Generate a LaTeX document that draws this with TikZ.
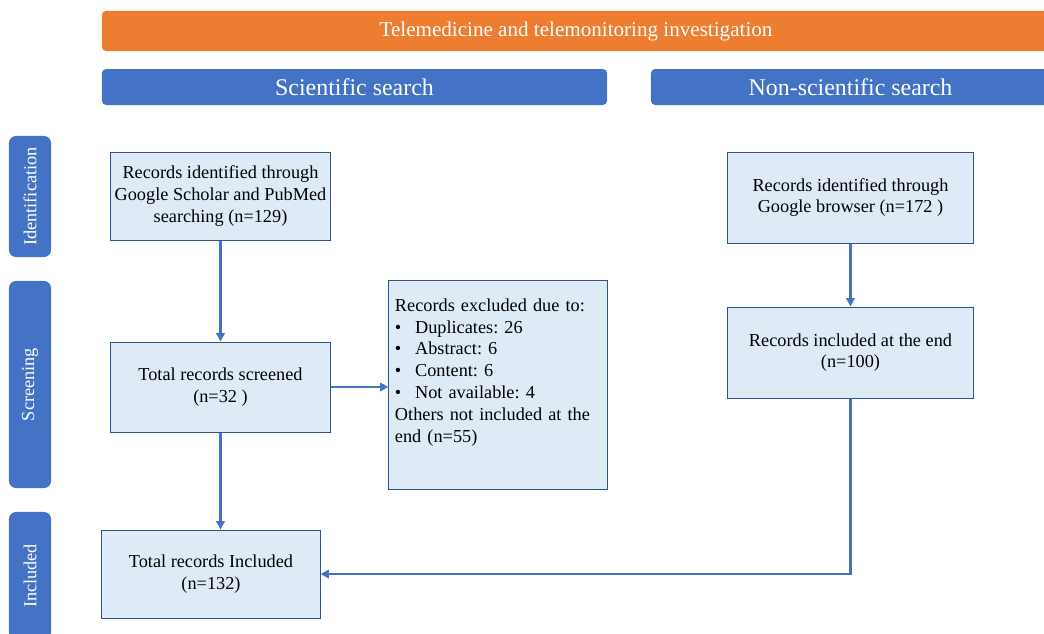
\documentclass[tikz,border=0pt]{standalone}
\usepackage{fontspec}
\setmainfont{Liberation Serif}
\usetikzlibrary{positioning, calc, arrows.meta}
\definecolor{bannerorange}{RGB}{237,125,49}
\definecolor{bannerblue}{RGB}{68,114,196}
\definecolor{boxfill}{RGB}{222,235,247}
\definecolor{boxedge}{RGB}{47,82,143}

\begin{document}
\frenchspacing
\begin{tikzpicture}[
        x=0.025cm, y=-0.025cm,
        banner/.style={rectangle, fill=bannerblue, text=white, rounded corners=3pt, inner sep=0pt, align=center},
        phase/.style={rectangle, fill=bannerblue, text=white, rounded corners=5pt, rotate=90, minimum height=1.05cm, inner sep=0pt, font=\fontsize{13}{15}\selectfont},
        box/.style={rectangle, draw=boxedge, fill=boxfill, line width=0.7pt, align=center, inner sep=2pt, font=\fontsize{13}{15.5}\selectfont},
        arrow/.style={-{Triangle[length=6pt, width=6pt]}, bannerblue, line width=1.8pt},
    ]
    \useasboundingbox (0,0) rectangle (1044,633);

    % ===== Banners =====
    \node[banner, fill=bannerorange, minimum width=23.7cm, minimum height=1cm, font=\fontsize{15}{18}\selectfont] (TOP) at (576,31) {Telemedicine and telemonitoring investigation};
    \node[banner, minimum width=12.625cm, minimum height=0.9cm, font=\fontsize{17}{20}\selectfont] (SCI) at (354.5,87) {Scientific search};
    \node[banner, minimum width=9.975cm, minimum height=0.9cm, font=\fontsize{17}{20}\selectfont] (NSCI) at (850.5,87) {Non-scientific search};

    % ===== Phases =====
    \node[phase, minimum width=3.025cm] (PID) at (30,196.5) {Identification};
    \node[phase, minimum width=5.175cm] (PSCR) at (30,384.5) {Screening};
    \node[phase, minimum width=3.2cm] (PINC) at (30,576) {Included};

    % ===== Scientific search =====
    \node[box, minimum width=5.475cm, minimum height=2.2cm] (ID1) at (220.5,196)
        {Records identified through\\Google Scholar and PubMed\\searching (n=129)};
    \node[box, minimum width=5.475cm, minimum height=2.25cm] (SCR) at (220.5,387)
        {Total records screened\\(n=32 )};
    \node[box, minimum width=5.45cm, minimum height=5.2cm, text width=5.15cm, align=left] (EXC) at (498,385)
        {Records excluded due to:\\
         \textbullet\hspace{0.75em}Duplicates: 26\\
         \textbullet\hspace{0.75em}Abstract: 6\\
         \textbullet\hspace{0.75em}Content: 6\\
         \textbullet\hspace{0.75em}Not available: 4\\
         Others not included at the\\
         end (n=55)\par\rule{0pt}{0.6cm}};
    \node[box, minimum width=5.45cm, minimum height=2.2cm] (INC) at (211,574)
        {Total records Included\\(n=132)};

    % ===== Non-scientific search =====
    \node[box, minimum width=6.125cm, minimum height=2.275cm] (RID) at (850.5,197.5)
        {Records identified through\\Google browser (n=172 )};
    \node[box, minimum width=6.125cm, minimum height=2.275cm] (RINC) at (850.5,352.5)
        {Records included at the end\\(n=100)};

    % ===== Connectors =====
    \draw[arrow] (ID1) -- (SCR);
    \draw[arrow] (SCR.east) -- (SCR.east -| EXC.west);
    \draw[arrow] (SCR.south) -- (SCR.south |- INC.north);
    \draw[arrow] (RID) -- (RINC);
    \draw[arrow] (RINC.south) |- (INC.east);

\end{tikzpicture}
\end{document}
